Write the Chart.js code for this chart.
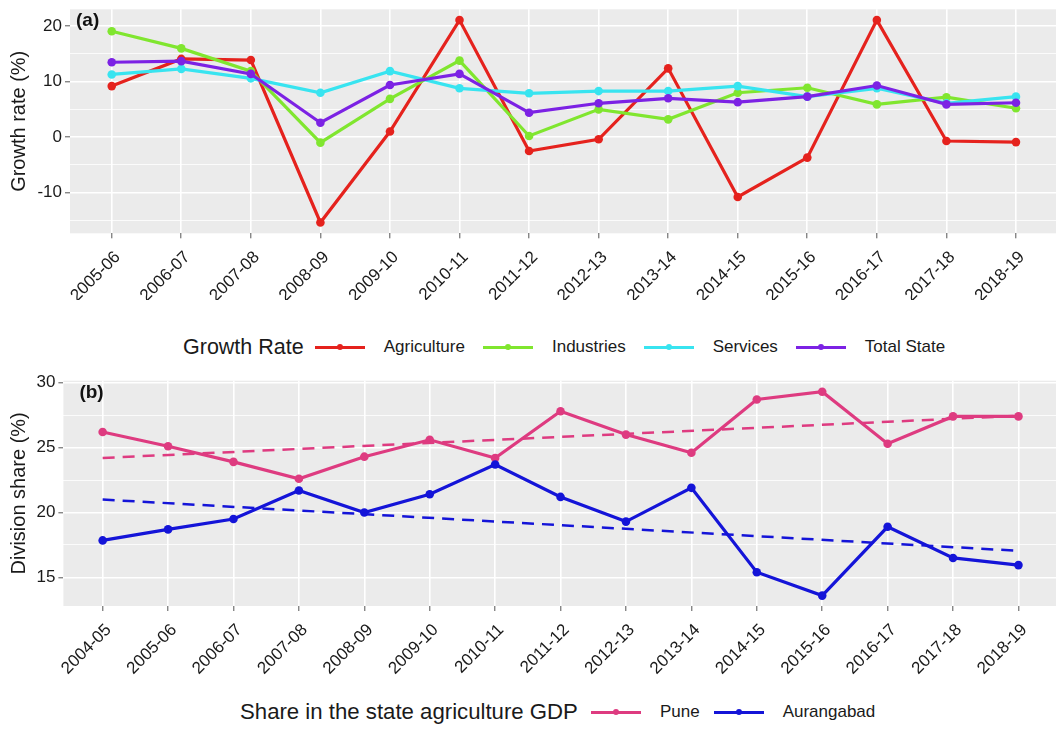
<!DOCTYPE html>
<html>
<head>
<meta charset="utf-8">
<title>Growth rate and division share</title>
<script src="https://cdn.jsdelivr.net/npm/chart.js@4/dist/chart.umd.min.js"></script>
<style>
  html, body { margin: 0; padding: 0; background: #fff; width: 1056px; height: 732px; overflow: hidden; }
  .wrap { position: absolute; left: 0; width: 1062px; }
  .legend { position: absolute; display: flex; align-items: center; white-space: nowrap;
            font-family: "Liberation Sans", Arial, sans-serif; color: #1a1a1a; }
  .legend .ttl { font-size: 21.5px; margin-right: 11px; }
  .legend .key { position: relative; width: 50px; height: 12px; }
  .legend .key + .lab { margin-left: 19px; }
  .legend .lab + .key { margin-left: 18px; }
  .legend .key .ln { position: absolute; left: 0; right: 0; top: 4.5px; height: 3px; }
  .legend .key .dt { position: absolute; left: 22px; top: 3px; width: 6px; height: 6px; border-radius: 50%; }
  .legend .lab { font-size: 17px; }
  #legShare .ttl { font-size: 22.2px; margin-right: 13px; }
  #legShare .lab + .key { margin-left: 14px; }
</style>
</head>
<body>
<div class="wrap" style="top:0;height:300px"><canvas id="growth"></canvas></div>
<div id="legGrowth" class="legend" style="left:183px;top:334px;height:26px"></div>
<div class="wrap" style="top:360px;height:320px"><canvas id="share"></canvas></div>
<div id="legShare" class="legend" style="left:240px;top:699px;height:26px"></div>

<script>
// (a) Sectoral growth rates of the state economy, %
const growthYears = ['2005-06', '2006-07', '2007-08', '2008-09', '2009-10', '2010-11', '2011-12',
                     '2012-13', '2013-14', '2014-15', '2015-16', '2016-17', '2017-18', '2018-19'];
const agriculture = [9.2, 14.1, 13.9, -15.4, 1.0, 21.1, -2.5, -0.4, 12.4, -10.8, -3.7, 21.1, -0.7, -0.9];
const industries  = [19.1, 16.0, 11.9, -1.0, 6.9, 13.8, 0.2, 5.0, 3.2, 8.0, 8.9, 5.9, 7.2, 5.2];
const services    = [11.3, 12.3, 10.6, 8.0, 11.9, 8.8, 7.9, 8.3, 8.3, 9.2, 7.3, 8.8, 6.1, 7.3];
const totalState  = [13.5, 13.7, 11.4, 2.6, 9.4, 11.4, 4.4, 6.1, 7.0, 6.3, 7.3, 9.3, 5.9, 6.2];
const growthTicks = [-10, 0, 10, 20];
const growthMinorTicks = [-15, -5, 5, 15];

// (b) Division share in the state agriculture GDP, %
const shareYears = ['2004-05', '2005-06', '2006-07', '2007-08', '2008-09', '2009-10', '2010-11', '2011-12',
                    '2012-13', '2013-14', '2014-15', '2015-16', '2016-17', '2017-18', '2018-19'];
const pune       = [26.2, 25.1, 23.9, 22.6, 24.3, 25.6, 24.2, 27.8, 26.0, 24.6, 28.7, 29.3, 25.3, 27.4, 27.4];
const aurangabad = [17.85, 18.7, 19.5, 21.7, 20.0, 21.4, 23.7, 21.2, 19.3, 21.9, 15.4, 13.6, 18.9, 16.5, 15.95];
// linear trend, value at the first and the last year
const puneTrend       = [24.2, 27.45];
const aurangabadTrend = [21.0, 17.05];
const shareTicks = [15, 20, 25, 30];
const shareMinorTicks = [17.5, 22.5, 27.5];

const FONT = '"Liberation Sans", Arial, sans-serif';
const INK = '#1a1a1a';
const COLORS = {
  agriculture: '#E5221D', industries: '#80E62F', services: '#38E4F0', total: '#7C22E4',
  pune: '#DE3B80', aurangabad: '#1414D8'
};

const toXY = arr => arr.map((v, i) => ({ x: i, y: v }));
const endsXY = (arr, n) => [{ x: 0, y: arr[0] }, { x: n - 1, y: arr[1] }];

// grey panel behind the grid, ggplot style
const panelBackground = {
  id: 'panelBackground',
  beforeDraw(chart) {
    const { ctx, chartArea: a } = chart;
    ctx.save();
    ctx.fillStyle = '#EBEBEB';
    ctx.fillRect(a.left, a.top, a.right - a.left, a.bottom - a.top);
    ctx.restore();
  }
};

// bold panel tag in the upper left corner
const panelTag = {
  id: 'panelTag',
  afterDraw(chart, args, opts) {
    const { ctx, chartArea: a } = chart;
    ctx.save();
    ctx.font = 'bold 19px ' + FONT;
    ctx.fillStyle = '#111';
    ctx.textBaseline = 'middle';
    ctx.fillText(opts.text, a.left + opts.dx, a.top + opts.dy);
    ctx.restore();
  }
};

function lineSet(label, values, color, order) {
  return {
    label, data: toXY(values), borderColor: color, backgroundColor: color,
    borderWidth: 3.2, pointRadius: 4.3, pointBorderWidth: 0, pointBackgroundColor: color,
    tension: 0, order, inLegend: true
  };
}
function trendSet(values, n, color) {
  return {
    label: '', data: endsXY(values, n), borderColor: color, borderWidth: 2.5,
    borderDash: [12, 8], pointRadius: 0, tension: 0, order: 0, inLegend: false
  };
}

function makeChart(id, cfg) {
  const n = cfg.labels.length;
  const major = cfg.major, all = cfg.major.concat(cfg.minor).sort((a, b) => a - b);
  return new Chart(document.getElementById(id), {
    type: 'line',
    data: { datasets: cfg.datasets },
    plugins: [panelBackground, panelTag],
    options: {
      responsive: true, maintainAspectRatio: false, animation: false,
      layout: { padding: cfg.padding },
      plugins: { legend: { display: false }, tooltip: { enabled: false }, panelTag: cfg.tag },
      scales: {
        x: {
          type: 'linear', min: -0.6, max: n - 1 + 0.6,
          afterBuildTicks: s => { s.ticks = cfg.labels.map((_, i) => ({ value: i })); },
          afterFit: s => { s.height = cfg.xHeight; s.paddingLeft = 0; s.paddingRight = 0; },
          ticks: {
            autoSkip: false, minRotation: 45, maxRotation: 45, padding: 9, labelOffset: 6,
            color: INK, font: { family: FONT, size: 17 },
            callback: (v, i) => cfg.labels[i]
          },
          grid: { color: '#FFFFFF', lineWidth: 1.6, tickColor: '#555', tickLength: 5, tickWidth: 1 },
          border: { display: false }
        },
        y: {
          type: 'linear', min: cfg.yMin, max: cfg.yMax,
          afterBuildTicks: s => { s.ticks = all.map(v => ({ value: v })); },
          afterFit: s => { s.width = cfg.yWidth; s.paddingTop = 0; s.paddingBottom = 0; },
          ticks: {
            padding: 3, color: INK, font: { family: FONT, size: 17 },
            callback: v => major.includes(v) ? String(v) : ''
          },
          grid: {
            color: '#FFFFFF',
            lineWidth: c => major.includes(c.tick.value) ? 1.6 : 0.8,
            tickColor: c => major.includes(c.tick.value) ? '#555' : 'rgba(0,0,0,0)',
            tickLength: 5, tickWidth: 1
          },
          border: { display: false },
          title: {
            display: true, text: cfg.yTitle, color: INK,
            font: { family: FONT, size: 20 }, padding: { top: 7, bottom: 0 }
          }
        }
      }
    }
  });
}

const growthChart = makeChart('growth', {
  labels: growthYears, major: growthTicks, minor: growthMinorTicks,
  yMin: -17.35, yMax: 23.05, yWidth: 70, xHeight: 66.7,
  padding: { top: 9.3, right: 2.2, bottom: 0, left: 0 },
  yTitle: 'Growth rate (%)',
  tag: { text: '(a)', dx: 6, dy: 11 },
  datasets: [
    lineSet('Agriculture', agriculture, COLORS.agriculture, 4),
    lineSet('Industries', industries, COLORS.industries, 3),
    lineSet('Services', services, COLORS.services, 2),
    lineSet('Total State', totalState, COLORS.total, 1)
  ]
});

const shareChart = makeChart('share', {
  labels: shareYears, major: shareTicks, minor: shareMinorTicks,
  yMin: 12.8, yMax: 30.15, yWidth: 63.4, xHeight: 74,
  padding: { top: 20.7, right: 2.7, bottom: 0, left: 0 },
  yTitle: 'Division share (%)',
  tag: { text: '(b)', dx: 16, dy: 12.3 },
  datasets: [
    lineSet('Pune', pune, COLORS.pune, 3),
    lineSet('Aurangabad', aurangabad, COLORS.aurangabad, 2),
    trendSet(puneTrend, shareYears.length, COLORS.pune),
    trendSet(aurangabadTrend, shareYears.length, COLORS.aurangabad)
  ]
});

// legend rows built from the chart datasets
function buildLegend(el, title, chart) {
  const t = document.createElement('span');
  t.className = 'ttl';
  t.textContent = title;
  el.appendChild(t);
  chart.data.datasets.filter(d => d.inLegend).forEach(d => {
    const k = document.createElement('span');
    k.className = 'key';
    k.innerHTML = '<span class="ln" style="background:' + d.borderColor + '"></span>' +
                  '<span class="dt" style="background:' + d.borderColor + '"></span>';
    el.appendChild(k);
    const l = document.createElement('span');
    l.className = 'lab';
    l.textContent = d.label;
    el.appendChild(l);
  });
}
buildLegend(document.getElementById('legGrowth'), 'Growth Rate', growthChart);
buildLegend(document.getElementById('legShare'), 'Share in the state agriculture GDP', shareChart);
</script>
</body>
</html>
